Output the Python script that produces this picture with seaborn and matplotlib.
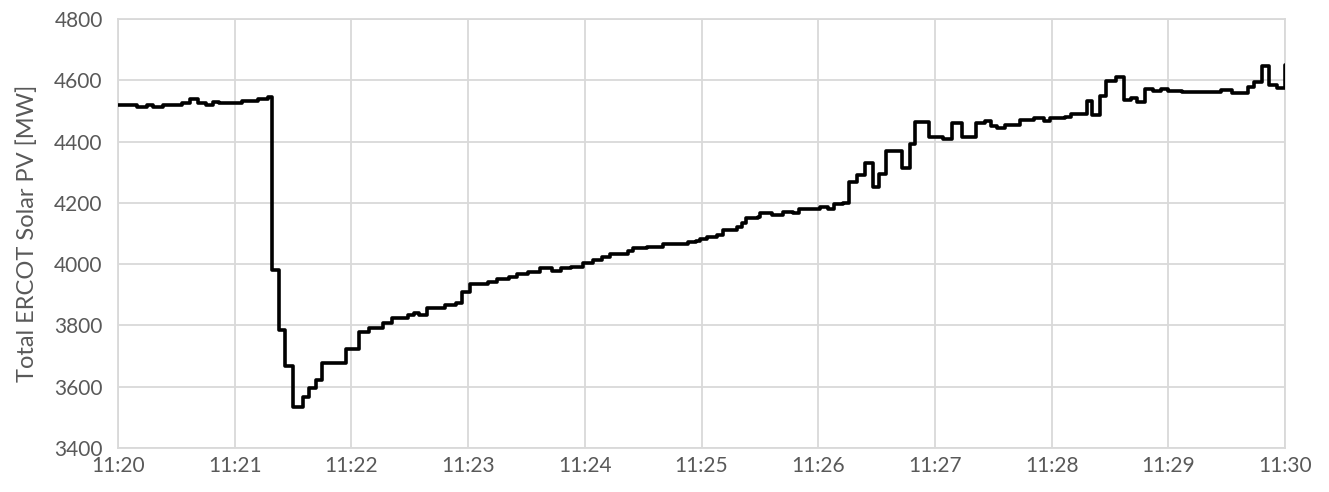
import matplotlib
matplotlib.use("Agg")
import matplotlib.pyplot as plt
import seaborn as sns
import pandas as pd

# Seconds after 11:20:00 where each new reading starts
seconds = [0, 10, 15, 18, 23, 33, 37, 41, 45, 49, 52, 64, 72, 77,
           79, 83, 86, 90, 95, 98, 102, 105, 117, 124, 129, 136, 141,
           149, 152, 155, 159, 168, 174, 177, 181, 190, 195, 201, 205,
           211, 217, 223, 228, 233, 239, 244, 249, 253, 262, 265, 272,
           280, 293, 297, 299, 303, 308, 311, 318, 321, 323, 329, 330,
           336, 342, 347, 350, 361, 365, 368, 373, 376, 380, 384, 388,
           391, 395, 403, 407, 410, 417, 424, 429, 434, 441, 446, 449,
           452, 456, 464, 471, 476, 479, 487, 490, 498, 501, 505, 508,
           513, 517, 521, 524, 528, 532, 536, 540, 547, 567, 573, 581,
           584, 588, 592, 596, 600]

# Total ERCOT solar PV output [MW]
solar_mw = [4518, 4512, 4518, 4512, 4518, 4527, 4539, 4526, 4518, 4530,
            4525, 4533, 4538, 4545,
            3981, 3785, 3668, 3534, 3565, 3596, 3622, 3678, 3722, 3779,
            3792, 3808, 3824, 3834, 3841, 3834, 3857, 3867, 3873, 3909,
            3935, 3942, 3952, 3958, 3968, 3975, 3987, 3978, 3987, 3992,
            4004, 4013, 4023, 4033, 4043, 4052, 4056, 4066, 4072, 4076,
            4082, 4089, 4095, 4111, 4121, 4134, 4150, 4154, 4167, 4160,
            4170, 4167, 4180, 4187, 4180, 4196, 4200, 4268, 4291, 4330,
            4252, 4294, 4369, 4314, 4392, 4464, 4415, 4408, 4460, 4415,
            4460, 4467, 4451, 4444, 4454, 4470, 4477, 4467, 4477, 4480,
            4490, 4532, 4487, 4548, 4598, 4611, 4536, 4542, 4529, 4571,
            4565, 4571, 4565, 4562, 4568, 4560, 4578, 4594, 4647, 4585,
            4575, 4650]

tick_seconds = list(range(0, 601, 60))
tick_labels = ["11:20", "11:21", "11:22", "11:23", "11:24", "11:25",
               "11:26", "11:27", "11:28", "11:29", "11:30"]
y_ticks = [3400, 3600, 3800, 4000, 4200, 4400, 4600, 4800]

df = pd.DataFrame({"t": seconds, "mw": solar_mw})

sns.set_style("white")
plt.rcParams["font.family"] = ["Lato", "DejaVu Sans"]

fig = plt.figure(figsize=(13.29, 4.92), dpi=100)
ax = fig.add_axes([0.0888, 0.0894, 0.8781, 0.872])

grid_col = "#d9d9d9"
text_col = "#595959"

# Step line, like the SCADA samples
sns.lineplot(data=df, x="t", y="mw", ax=ax, color="black", linewidth=2.6,
             drawstyle="steps-post", estimator=None, zorder=3)

ax.set_xlim(0, 600)
ax.set_ylim(3400, 4800)
ax.set_xticks(tick_seconds)
ax.set_xticklabels(tick_labels)
ax.set_yticks(y_ticks)
ax.grid(True, color=grid_col, linewidth=1.3)
ax.set_axisbelow(True)
for s in ax.spines.values():
    s.set_color(grid_col)
    s.set_linewidth(1.3)

ax.tick_params(axis="both", length=0, labelsize=15, labelcolor=text_col)
ax.tick_params(axis="x", pad=6)
ax.tick_params(axis="y", pad=11)
ax.set_xlabel("")
ax.set_ylabel("Total ERCOT Solar PV [MW]", fontsize=17, color=text_col,
              labelpad=12)

fig.savefig("out.png", dpi=100)
